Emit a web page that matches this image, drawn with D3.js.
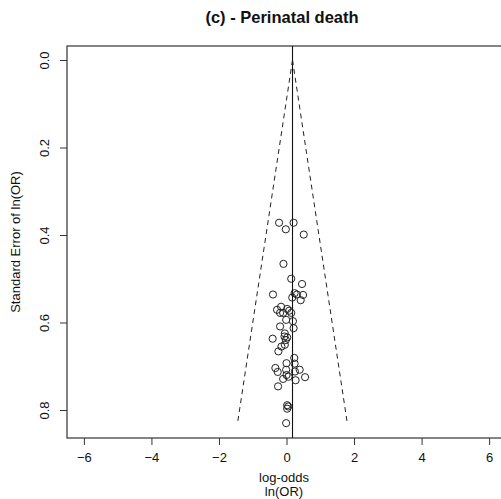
<!DOCTYPE html>
<html>
<head>
<meta charset="utf-8">
<script src="https://cdn.jsdelivr.net/npm/d3@7"></script>
<style>
  html, body { margin: 0; padding: 0; background: #fff; }
  svg { display: block; font-family: "Liberation Sans", Arial, sans-serif; }
</style>
</head>
<body>
<div id="chart"></div>
<script>
// study estimates
const logOdds = [
  -0.22, -0.02, 0.21, 0.51, -0.09, 0.14, 0.46, -0.40, 0.24, 0.31,
  0.49, 0.17, 0.42, -0.16, -0.28, 0.02, 0.08, -0.10, -0.19, 0.14,
  -0.01, 0.19, -0.19, 0.21, -0.05, 0.02, -0.41, -0.02, -0.06, -0.05,
  -0.15, -0.24, 0.23, 0.24, 0.00, -0.33, -0.26, -0.01, 0.25, 0.39,
  0.00, 0.06, -0.10, 0.27, 0.55, -0.25, 0.02, 0.05, 0.02, -0.01
];
const stdErrors = [
  0.372, 0.387, 0.372, 0.399, 0.466, 0.500, 0.512, 0.536, 0.533, 0.536,
  0.537, 0.543, 0.549, 0.564, 0.571, 0.569, 0.573, 0.578, 0.578, 0.578,
  0.594, 0.597, 0.609, 0.613, 0.625, 0.634, 0.637, 0.640, 0.632, 0.651,
  0.655, 0.666, 0.681, 0.694, 0.693, 0.704, 0.713, 0.708, 0.712, 0.708,
  0.720, 0.724, 0.729, 0.732, 0.725, 0.746, 0.789, 0.792, 0.797, 0.830
];
const pooledEstimate = 0.178;
const funnelSE = [0, 0.83];
const funnelLeft = [pooledEstimate, -1.45];
const funnelRight = [pooledEstimate, 1.80];
const xTicks = [-6, -4, -2, 0, 2, 4, 6];
const yTicks = [0.0, 0.2, 0.4, 0.6, 0.8];

const width = 501;
const height = 499;
const box = { left: 67, top: 46, right: 506, bottom: 438 };
const ink = "#333";

const x = d3.scaleLinear().domain([-6.5, 6.5]).range([box.left, box.right]);
const y = d3.scaleLinear().domain([-0.032, 0.864]).range([box.top, box.bottom]);

const svg = d3.select("#chart")
  .append("svg")
  .attr("width", width)
  .attr("height", height);

// Title
svg.append("text")
  .attr("x", 282)
  .attr("y", 23)
  .attr("text-anchor", "middle")
  .attr("font-size", "16.5px")
  .attr("font-weight", "bold")
  .attr("fill", "#111")
  .text("(c) - Perinatal death");

// Axes
const xAxis = svg.append("g")
  .attr("transform", `translate(0,${box.bottom})`)
  .call(d3.axisBottom(x).tickValues(xTicks).tickSize(7).tickPadding(8).tickFormat(d3.format("d")));

const yAxis = svg.append("g")
  .attr("transform", `translate(${box.left},0)`)
  .call(d3.axisLeft(y).tickValues(yTicks).tickSize(7).tickFormat(d3.format(".1f")));

[xAxis, yAxis].forEach((g) => {
  g.select(".domain").remove();
  g.selectAll("line").attr("stroke", ink);
  g.selectAll("text").attr("fill", "#111").attr("font-size", "13px")
    .attr("font-family", "Liberation Sans, Arial, sans-serif");
});

// rotated y tick labels, like R's default las = 0
yAxis.selectAll(".tick text")
  .attr("x", null).attr("dy", null)
  .attr("text-anchor", "middle")
  .attr("transform", "translate(-18,0) rotate(-90)");

// Plot box
svg.append("rect")
  .attr("x", box.left)
  .attr("y", box.top)
  .attr("width", box.right - box.left)
  .attr("height", box.bottom - box.top)
  .attr("fill", "none")
  .attr("stroke", ink)
  .attr("stroke-width", 1.2);

// Axis labels
svg.append("text")
  .attr("x", 284)
  .attr("y", 482)
  .attr("text-anchor", "middle")
  .attr("font-size", "13px")
  .attr("fill", "#111")
  .text("log-odds");

svg.append("text")
  .attr("x", 284)
  .attr("y", 496)
  .attr("text-anchor", "middle")
  .attr("font-size", "13px")
  .attr("fill", "#111")
  .text("ln(OR)");

svg.append("text")
  .attr("transform", `translate(20,${(box.top + box.bottom) / 2}) rotate(-90)`)
  .attr("text-anchor", "middle")
  .attr("font-size", "13px")
  .attr("fill", "#111")
  .text("Standard Error of ln(OR)");

// Pooled estimate line
svg.append("line")
  .attr("x1", x(pooledEstimate))
  .attr("x2", x(pooledEstimate))
  .attr("y1", box.top)
  .attr("y2", box.bottom)
  .attr("stroke", "#111")
  .attr("stroke-width", 1.1);

// Funnel limits
const funnel = d3.line().x((d) => x(d[0])).y((d) => y(d[1]));
[funnelLeft, funnelRight].forEach((bound) => {
  svg.append("path")
    .datum(bound.map((v, i) => [v, funnelSE[i]]))
    .attr("fill", "none")
    .attr("stroke", "#222")
    .attr("stroke-width", 1)
    .attr("stroke-dasharray", "5,4")
    .attr("d", funnel);
});

// Studies
svg.selectAll("circle.study")
  .data(logOdds.map((v, i) => ({ est: v, se: stdErrors[i] })))
  .enter()
  .append("circle")
  .attr("class", "study")
  .attr("cx", (d) => x(d.est))
  .attr("cy", (d) => y(d.se))
  .attr("r", 3.6)
  .attr("fill", "none")
  .attr("stroke", "#222")
  .attr("stroke-width", 1);
</script>
</body>
</html>
